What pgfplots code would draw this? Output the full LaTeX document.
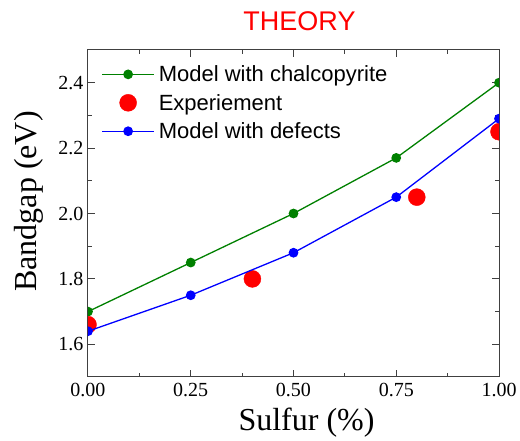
\documentclass[border=0pt]{standalone}
\usepackage{pgfplots}
\pgfplotsset{compat=1.18}
\usepackage{fontspec}
\setmainfont{Liberation Serif}
\newfontfamily\arial{Liberation Sans}
\pgfplotsset{legend image code/.code={%
  \draw[mark repeat=2,mark phase=2,#1] plot coordinates {(0pt,0pt) (26pt,0pt) (52pt,0pt)};}}
\definecolor{mgreen}{RGB}{0,128,0}
\definecolor{mblue}{RGB}{0,0,255}
\definecolor{mred}{RGB}{255,0,0}

\begin{document}
\begin{tikzpicture}
\begin{axis}[
  width=411pt, height=327pt, scale only axis,
  xmin=0, xmax=1, ymin=1.5, ymax=2.5,
  xtick={0,0.25,0.5,0.75,1},
  xticklabels={0.00,0.25,0.50,0.75,1.00},
  ytick={1.6,1.8,2.0,2.2,2.4},
  yticklabels={1.6,1.8,2.0,2.2,2.4},
  minor x tick num=1, minor y tick num=1,
  tick align=inside,
  major tick length=7pt, minor tick length=4pt,
  axis line style={line width=1pt, black!75},
  every tick/.style={line width=1pt, black!75},
  ticklabel style={font=\fontsize{20}{24}\selectfont},
  xticklabel style={yshift=-3pt},
  yticklabel style={xshift=-1pt},
  xlabel={Sulfur (\%)}, ylabel={Bandgap (eV)},
  label style={font=\fontsize{32}{38}\selectfont},
  xlabel style={xshift=13pt, yshift=-4pt},
  ylabel style={xshift=12pt, yshift=8pt},
  title={THEORY},
  title style={font=\arial\fontsize{27}{32}\selectfont, text=mred, xshift=6pt, yshift=10pt},
  legend style={draw=none, fill=none, at={(rel axis cs:0.025,0.965)}, anchor=north west,
    font=\arial\fontsize{22}{26}\selectfont, row sep=7pt,
    nodes={inner xsep=4pt}},
  legend cell align=left,
  clip marker paths=true,
]
\addplot[color=mgreen, line width=1.3pt, mark=*, mark size=4.2pt] coordinates {
  (0,1.70) (0.25,1.85) (0.5,2.00) (0.75,2.17) (1,2.40)
};
\addlegendentry{Model with chalcopyrite}
\addplot[only marks, color=mred, mark=*, mark size=8.5pt] coordinates {
  (0,1.66) (0.4,1.80) (0.8,2.05) (1,2.25)
};
\addlegendentry{Experiement}
\addplot[color=mblue, line width=1.3pt, mark=*, mark size=4.2pt] coordinates {
  (0,1.64) (0.25,1.75) (0.5,1.88) (0.75,2.05) (1,2.29)
};
\addlegendentry{Model with defects}
\end{axis}
\pgfresetboundingbox
\path (current axis.south west) ++(-88pt,-64pt) coordinate (bl);
\path (current axis.north east) ++(21pt,50pt) coordinate (tr);
\path (bl) rectangle (tr);
\end{tikzpicture}
\end{document}
